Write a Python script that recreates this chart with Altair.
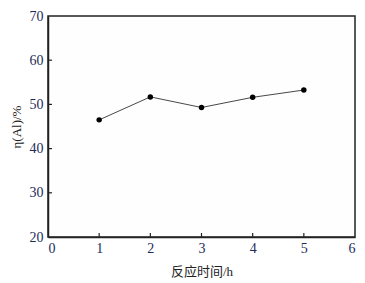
import altair as alt
import pandas as pd

hours = [1, 2, 3, 4, 5]
eta = [46.5, 51.7, 49.3, 51.6, 53.25]
x_ticks = [0, 1, 2, 3, 4, 5, 6]
y_ticks = [20, 30, 40, 50, 60, 70]

df = pd.DataFrame({"h": hours, "eta": eta})
xt = pd.DataFrame({"v": x_ticks[1:-1]})
yt = pd.DataFrame({"v": y_ticks[1:-1]})

W, H = 307, 221
font = "Liberation Serif, Noto Sans CJK SC"
lab_col = "#1c2b5a"

xs = alt.Scale(domain=[0, 6], nice=False)
ys = alt.Scale(domain=[20, 70], nice=False)

xaxis = alt.Axis(values=x_ticks, ticks=False, labelFont=font, labelFontSize=14,
                 labelColor=lab_col, labelPadding=4, title="反应时间/h",
                 titleFont=font, titleFontSize=13, titleFontWeight="normal",
                 titleColor="#222", titlePadding=10, grid=False,
                 domainColor="#222", domainWidth=1.5)
yaxis = alt.Axis(values=y_ticks, ticks=False, labelFont=font, labelFontSize=14,
                 labelColor=lab_col, labelPadding=5, title="η(Al)/%",
                 titleFont=font, titleFontSize=13, titleFontWeight="normal",
                 titleColor="#222", titlePadding=6, grid=False,
                 domainColor="#222", domainWidth=1.5)

line = alt.Chart(df).mark_line(color="#333", strokeWidth=0.9).encode(
    x=alt.X("h:Q", scale=xs, axis=xaxis),
    y=alt.Y("eta:Q", scale=ys, axis=yaxis),
)
pts = alt.Chart(df).mark_circle(color="black", size=30, opacity=1).encode(
    x=alt.X("h:Q", scale=xs),
    y=alt.Y("eta:Q", scale=ys),
)
xtk = alt.Chart(xt).mark_rule(color="#222", strokeWidth=1.2).encode(
    x=alt.X("v:Q", scale=xs),
    y=alt.value(H), y2=alt.value(H - 4),
)
ytk = alt.Chart(yt).mark_rule(color="#222", strokeWidth=1.2).encode(
    y=alt.Y("v:Q", scale=ys),
    x=alt.value(0), x2=alt.value(4),
)

chart = alt.layer(line, xtk, ytk, pts).properties(
    width=W, height=H,
    autosize=alt.AutoSizeParams(type="none"),
    padding={"left": 40, "top": 8, "right": 2, "bottom": 45},
).configure_view(stroke="#222", strokeWidth=1.5, fill="#fefefe")

chart.save("out.html", embed_options={"renderer": "svg", "actions": False})
